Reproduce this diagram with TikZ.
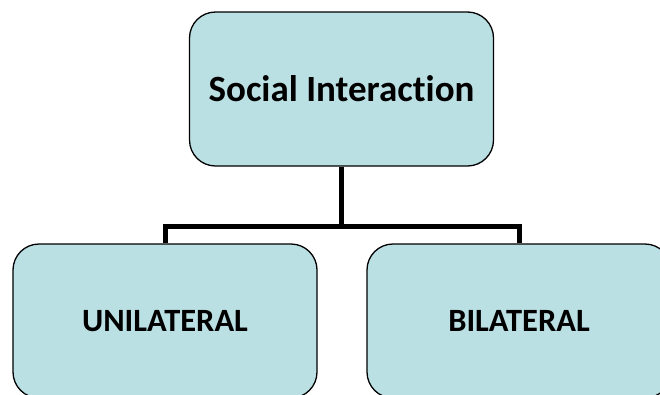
\documentclass[tikz,border=0pt]{standalone}
\usepackage{fontspec}
\setmainfont{Carlito}[Ligatures=NoCommon]
\definecolor{boxfill}{RGB}{186,224,228}
\begin{document}
\begin{tikzpicture}[x=1pt,y=1pt,
  box/.style={draw=black, line width=1.3pt, fill=boxfill, rounded corners=26pt,
    minimum width=304pt, minimum height=154pt, inner sep=0pt, font=\bfseries},
  conn/.style={draw=black, line width=5pt, line join=miter}]
  \useasboundingbox (0,0) rectangle (660,-394);
  \clip (0,0) rectangle (660,-394);
  \node[box, font=\bfseries\fontsize{37}{44}\selectfont] (top) at (341.5,-89) {Social Interaction};
  \node[box, font=\bfseries\fontsize{32.5}{38}\selectfont] (left) at (165,-321) {UNILATERAL};
  \node[box, font=\bfseries\fontsize{32.5}{38}\selectfont] (right) at (519,-321) {BILATERAL};
  \coordinate (bus) at (341.5,-226.5);
  \draw[conn] (top.south) -- (bus);
  \draw[conn] (left.north) |- (bus) -| (right.north);
\end{tikzpicture}
\end{document}
